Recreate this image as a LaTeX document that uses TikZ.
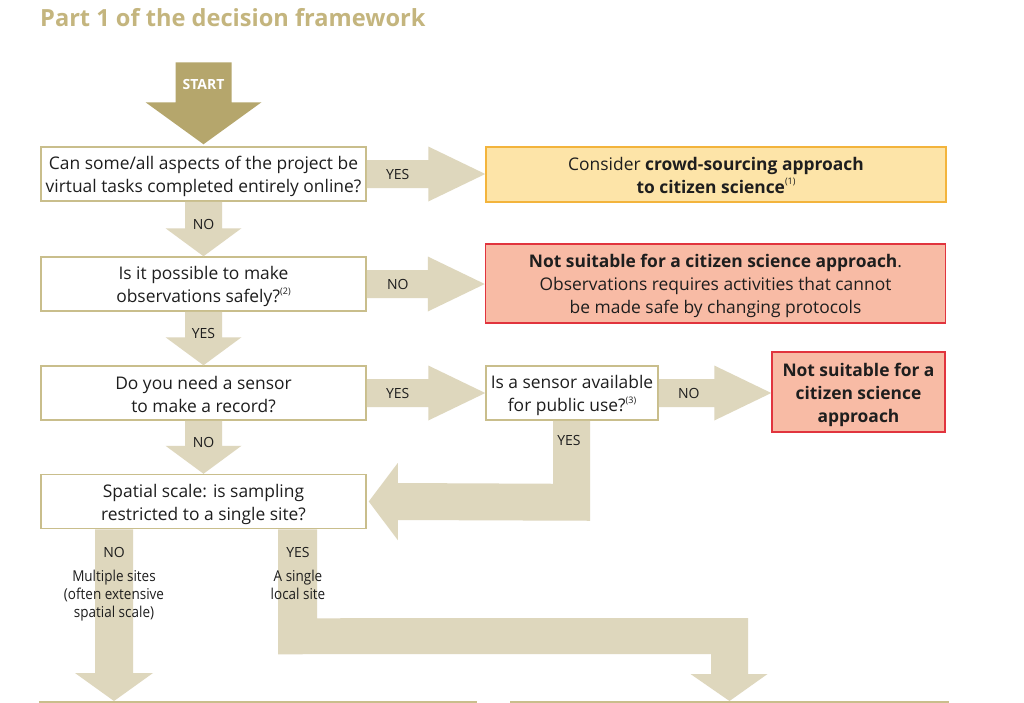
\documentclass[tikz,border=0pt]{standalone}
\usepackage{fontspec}
\setmainfont{Open Sans}
\usetikzlibrary{calc}
\definecolor{arrowc}{RGB}{222,215,189}
\definecolor{startc}{RGB}{181,166,108}
\definecolor{titlec}{RGB}{196,181,126}
\definecolor{boxc}{RGB}{201,190,140}
\definecolor{crowdfill}{RGB}{253,228,168}
\definecolor{crowdline}{RGB}{243,180,60}
\definecolor{redfill}{RGB}{248,187,165}
\definecolor{redline}{RGB}{225,52,62}
\definecolor{txt}{RGB}{30,30,30}
\newcommand{\qfont}{\fontsize{17.4}{23}\selectfont}
\newcommand{\lblfont}{\fontsize{14}{18}\selectfont}
\newcommand{\fnote}[1]{\raisebox{0.5em}{\fontsize{9}{9}\selectfont #1}}
\newcommand{\tst}{\rule{0pt}{19pt}}
\newcommand{\bst}{\rule[-4pt]{0pt}{4pt}}
\newcommand{\rblock}[2]{%
  \path (#1.east -| #2.west) coordinate (T#1#2);
  \fill[arrowc] ($(#1.east)+(0,-14)$) -- ($(T#1#2)+(-57,-14)$) -- ($(T#1#2)+(-57,-27.5)$) -- (T#1#2)
    -- ($(T#1#2)+(-57,27.5)$) -- ($(T#1#2)+(-57,14)$) -- ($(#1.east)+(0,14)$) -- cycle;}
\newcommand{\dblock}[2]{%
  \fill[arrowc] ($(#1.south)+(-18.5,0)$) -- ($(#2.north)+(-18.5,-28)$) -- ($(#2.north)+(-38,-28)$) -- (#2.north)
    -- ($(#2.north)+(38,-28)$) -- ($(#2.north)+(18.5,-28)$) -- ($(#1.south)+(18.5,0)$) -- cycle;}
\begin{document}
\begin{tikzpicture}[x=1pt,y=-1pt,
  qbox/.style={draw=boxc, line width=1.5pt, fill=white, minimum width=325pt, minimum height=54pt,
    align=center, inner sep=0pt, font=\qfont, text=txt},
  crowd/.style={draw=crowdline, line width=1.5pt, fill=crowdfill, minimum width=460pt, minimum height=55pt,
    align=center, inner sep=0pt, font=\qfont, text=txt},
  redbox/.style={draw=redline, line width=1.5pt, fill=redfill, align=center, inner sep=0pt, font=\qfont, text=txt},
  lbl/.style={font=\lblfont, text=txt, inner sep=0pt},
  small/.style={font=\fontsize{15}{18}\selectfont, text=txt, inner sep=0pt, align=center}]
\useasboundingbox (0,0) rectangle (1024,702);
\clip (0,0) rectangle (1024,702);
\fill[white] (0,0) rectangle (1024,702);

\node[anchor=base west, font=\fontsize{23.6}{24}\selectfont\bfseries, text=titlec, inner sep=0pt] (title) at (40,26) {Part 1 of the decision framework};

% boxes
\node[qbox] (b1) at (203.5,174) {\tst Can some/all aspects of the project be\\virtual tasks completed entirely online?\bst};
\node[qbox] (b2) at (203.5,284) {\tst Is it possible to make\\observations safely?\fnote{(2)}\bst};
\node[qbox] (b3) at (203.5,393) {\tst Do you need a sensor\\to make a record?\bst};
\node[qbox] (b5) at (203.5,501.5) {\tst Spatial scale: is sampling\\restricted to a single site?\bst};
\node[qbox, minimum width=172pt] (b4) at (572,393) {\tst Is a sensor available\\for public use?\fnote{(3)}\bst};
\node[crowd] (c1) at (716,174.5) {\tst Consider \textbf{crowd-sourcing approach}\\\textbf{to citizen science}\fnote{(1)}\bst};
\node[redbox, minimum width=460pt, minimum height=79pt] (r1) at (715.5,283.5) {\tst\textbf{Not suitable for a citizen science approach}.\\Observations requires activities that cannot\\be made safe by changing protocols\bst};
\node[redbox, minimum width=173pt, minimum height=80pt] (r2) at (858.5,392) {\tst\textbf{Not suitable for a}\\\textbf{citizen science}\\\textbf{approach}\bst};
\node[draw=boxc, line width=1.5pt, minimum width=436pt, minimum height=60pt, anchor=north, inner sep=0pt] (nextL) at (258,701) {};
\node[draw=boxc, line width=1.5pt, minimum width=437pt, minimum height=60pt, anchor=north, inner sep=0pt] (nextR) at (729.5,701) {};
\coordinate (noL) at (114,701);

% START arrow
\fill[startc] ($(b1.north)+(-28,-84)$) -- ($(b1.north)+(28,-84)$) -- ($(b1.north)+(28,-44)$) -- ($(b1.north)+(58,-44)$)
  -- ($(b1.north)+(0,-2)$) -- ($(b1.north)+(-58,-44)$) -- ($(b1.north)+(-28,-44)$) -- cycle;
\node[font=\fontsize{14}{14}\selectfont\bfseries, text=white, inner sep=0pt] (start) at (203.5,84) {START};

% block arrows
\rblock{b1}{c1}
\rblock{b2}{r1}
\rblock{b3}{b4}
\rblock{b4}{r2}
\dblock{b1}{b2}
\dblock{b2}{b3}
\dblock{b3}{b5}

% b4 -> b5
\fill[arrowc] ($(b4.south)+(-19,0)$) -- ($(b4.south)+(-19,63)$) -- ($(b5.east)+(31,-18.5)$) -- ($(b5.east)+(31,-38.5)$)
  -- ($(b5.east)+(2,0)$) -- ($(b5.east)+(31,38.5)$) -- ($(b5.east)+(31,18.5)$) -- ($(b4.south)+(18,100)$) -- ($(b4.south)+(18,0)$) -- cycle;

% b5 -> left bottom
\fill[arrowc] ($(b5.south -| noL)+(-19,0)$) -- ($(noL)+(-19,-28)$) -- ($(noL)+(-39,-28)$) -- (noL)
  -- ($(noL)+(39,-28)$) -- ($(noL)+(19,-28)$) -- ($(b5.south -| noL)+(19,0)$) -- cycle;

% b5 -> right bottom
\fill[arrowc] ($(b5.south)+(74.5,0)$) -- ($(b5.south)+(74.5,125)$) -- ($(nextR.north)+(-18.5,-47)$) -- ($(nextR.north)+(-18.5,-27)$)
  -- ($(nextR.north)+(-39,-27)$) -- (nextR.north) -- ($(nextR.north)+(38,-27)$) -- ($(nextR.north)+(18.5,-27)$)
  -- ($(nextR.north)+(18.5,-83)$) -- ($(b5.south)+(113.5,89)$) -- ($(b5.south)+(113.5,0)$) -- cycle;

% labels
\node[lbl] at ($(b1.east)+(31,0)$) {YES};
\node[lbl] at ($(b2.east)+(31,0)$) {NO};
\node[lbl] at ($(b3.east)+(31,0)$) {YES};
\node[lbl] at ($(b4.east)+(30,0)$) {NO};
\node[lbl] at ($(b1.south)+(0,23)$) {NO};
\node[lbl] at ($(b2.south)+(0,22)$) {YES};
\node[lbl] at ($(b3.south)+(0,22)$) {NO};
\node[lbl] at ($(b4.south)+(-3,20)$) {YES};
\node[lbl] at (114,552) {NO};
\node[lbl] at (298,552) {YES};
\node[small, anchor=north] at (114,570) {\scalebox{0.9}[1]{Multiple sites}\\\scalebox{0.9}[1]{(often extensive}\\\scalebox{0.9}[1]{spatial scale)}};
\node[small, anchor=north] at (298,570) {\scalebox{0.9}[1]{A single}\\\scalebox{0.9}[1]{local site}};
\end{tikzpicture}
\end{document}
